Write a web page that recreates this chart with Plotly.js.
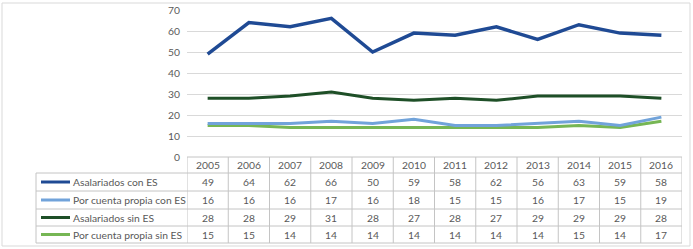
<!DOCTYPE html>
<html>
<head>
<meta charset="utf-8">
<script src="https://cdn.plot.ly/plotly-3.0.1.min.js"></script>
<style>html,body{margin:0;padding:0;background:#fff;}#chart{width:693px;height:249px;}</style>
</head>
<body>
<div id="chart"></div>
<script>
// ---- data ----
const years = ["2005","2006","2007","2008","2009","2010","2011","2012","2013","2014","2015","2016"];
const seriesNames = ["Asalariados con ES","Por cuenta propia con ES","Asalariados sin ES","Por cuenta propia sin ES"];
const asalariadosConES = [49,64,62,66,50,59,58,62,56,63,59,58];
const cuentaPropiaConES = [16,16,16,17,16,18,15,15,16,17,15,19];
const asalariadosSinES = [28,28,29,31,28,27,28,27,29,29,29,28];
const cuentaPropiaSinES = [15,15,14,14,14,14,14,14,14,15,14,17];
const yTicks = [0,10,20,30,40,50,60,70];

// ---- styles / layout constants ----
const seriesValues = [asalariadosConES, cuentaPropiaConES, asalariadosSinES, cuentaPropiaSinES];
const colors = ["#1F4A94","#71A3DA","#1E4F27","#76B654"];
const W = 693, H = 249;
const L = 187, R = 682, T = 10, B = 243;        // paper area in px
const pw = R - L, ph = B - T;
const px = x => (x - L) / pw;                    // px -> paper x
const py = y => (B - y) / ph;                    // px -> paper y
const headerTop = 157;
const rowLines = [173, 191, 209, 226, 243];
const rowCenters = [182, 200, 217.5, 234.5];
const gridCol = "#d9d9d9", tableCol = "#c4c4c4", textCol = "#595959";
const font = "Lato, 'Open Sans', sans-serif";
const fs = 10.3;

const traces = seriesValues.map((v, i) => ({
  type: "scatter", mode: "lines", x: years, y: v, name: seriesNames[i],
  line: {color: colors[i], width: i === 0 ? 3.5 : 3}, hoverinfo: "skip", showlegend: false
}));
traces.reverse();

const shapes = [];
const annotations = [];
// outer frame
shapes.push({type:"rect", xref:"paper", yref:"paper", x0:px(2), x1:px(690), y0:py(246), y1:py(3),
  line:{color:"#d9d9d9", width:1}});
// header top line
shapes.push({type:"line", xref:"paper", yref:"paper", x0:0, x1:1, y0:py(headerTop), y1:py(headerTop),
  line:{color:tableCol, width:1}});
// row lines
rowLines.forEach(y => shapes.push({type:"line", xref:"paper", yref:"paper", x0:px(36), x1:1, y0:py(y), y1:py(y),
  line:{color:tableCol, width:1}}));
// vertical column lines (category boundaries)
for (let i = 0; i <= years.length; i++) {
  shapes.push({type:"line", xref:"x", yref:"paper", x0:i-0.5, x1:i-0.5, y0:0, y1:py(headerTop),
    line:{color:tableCol, width:1}});
}
// label column left border
shapes.push({type:"line", xref:"paper", yref:"paper", x0:px(36), x1:px(36), y0:0, y1:py(rowLines[0]),
  line:{color:tableCol, width:1}});
// legend keys
seriesNames.forEach((n, i) => {
  shapes.push({type:"line", xref:"paper", yref:"paper", x0:px(41), x1:px(70), y0:py(rowCenters[i]), y1:py(rowCenters[i]),
    line:{color:colors[i], width:3}});
  annotations.push({xref:"paper", yref:"paper", x:px(71), y:py(rowCenters[i]), text:n, showarrow:false,
    xanchor:"left", yanchor:"middle", font:{family:font, size:fs, color:textCol}});
});
// header years
years.forEach((yr, j) => {
  annotations.push({xref:"x", yref:"paper", x:j, y:py(165), text:yr, showarrow:false,
    xanchor:"center", yanchor:"middle", font:{family:font, size:fs, color:textCol}});
});
// table values
seriesValues.forEach((vals, i) => {
  vals.forEach((v, j) => {
    annotations.push({xref:"x", yref:"paper", x:j, y:py(rowCenters[i]), text:String(v), showarrow:false,
      xanchor:"center", yanchor:"middle", font:{family:font, size:fs, color:textCol}});
  });
});

const layout = {
  width: W, height: H,
  margin: {l: L, r: W - R, t: T, b: H - B, pad: 0},
  paper_bgcolor: "#fff", plot_bgcolor: "#fff",
  showlegend: false,
  xaxis: {type:"category", categoryorder:"array", categoryarray: years, range:[-0.5, years.length - 0.5],
    showticklabels:false, showgrid:false, zeroline:false, ticks:"", showline:false, fixedrange:true},
  yaxis: {domain:[py(headerTop), 1], range:[0,70], tickvals: yTicks, showgrid:true, gridcolor:gridCol, gridwidth:1,
    zeroline:false, showline:false, ticks:"", ticklabelstandoff:6,
    tickfont:{family:font, size:fs, color:textCol}, fixedrange:true},
  shapes: shapes, annotations: annotations
};

Plotly.newPlot("chart", traces, layout, {staticPlot:true, displayModeBar:false});
</script>
</body>
</html>
